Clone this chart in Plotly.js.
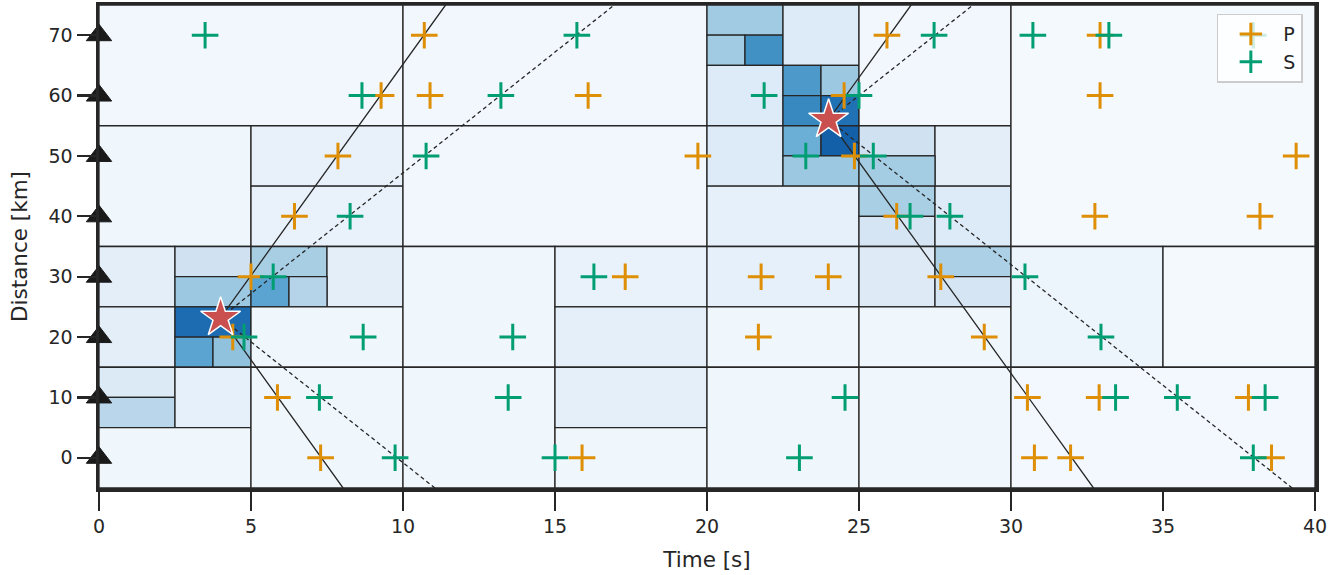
<!DOCTYPE html>
<html><head><meta charset="utf-8">
<script src="https://cdn.plot.ly/plotly-3.0.1.min.js"></script>
<style>html,body{margin:0;padding:0;background:#fff}</style>
</head><body><div id="chart" style="width:1340px;height:575px"></div>
<script>
// ---- data ----
const stationDist = [0, 10, 20, 30, 40, 50, 60, 70];

const pTime = [10.7, 25.92, 32.93,  9.28, 10.89, 16.09, 24.51, 32.93,  7.86, 19.7, 24.85, 39.38,
               6.43, 26.24, 32.76, 38.19,  5.0, 17.31, 21.78, 23.99, 27.69,  4.4, 21.69, 29.12,
               5.87, 30.54, 32.9, 37.81,  7.29, 15.89, 30.77, 31.96, 38.57];
const pDist = [70, 70, 70,  60, 60, 60, 60, 60,  50, 50, 50, 50,
               40, 40, 40, 40,  30, 30, 30, 30, 30,  20, 20, 20,
               10, 10, 10, 10,  0, 0, 0, 0, 0];

const sTime = [3.49, 15.72, 27.47, 30.72, 33.22, 37.97,  8.65, 13.22, 21.88, 25.0,  10.76, 23.25, 25.47,
               8.26, 26.68, 27.99,  5.73, 16.28, 30.46,  4.77, 8.69, 13.61, 32.96,
               7.25, 13.46, 24.54, 33.44, 35.47, 38.36,  9.74, 15.0, 23.04, 37.97];
const sDist = [70, 70, 70, 70, 70, 70,  60, 60, 60, 60,  50, 50, 50,
               40, 40, 40,  30, 30, 30,  20, 20, 20, 20,
               10, 10, 10, 10, 10, 10,  0, 0, 0, 0];

const eventTime = [4.0, 24.0];
const eventDist = [23.2, 56.0];
const velP = 7.0;
const velS = 4.0;

// quadtree cells: bounds and value (0..1 on Blues scale)
const cellX0 = [0, 10, 0, 5, 5, 10, 0, 2.5, 5, 7.5, 2.5, 5, 6.25, 0, 2.5, 2.5, 3.75, 5, 0, 0, 2.5, 0, 5, 10, 15, 15, 10, 15, 15,
                20, 20, 21.25, 22.5, 20, 22.5, 23.75, 22.5, 23.75, 25, 20, 22.5, 23.75, 22.5, 25, 27.5, 25, 20, 25, 25, 27.5, 30,
                20, 25, 27.5, 27.5, 20, 25, 20, 25, 30, 35, 30];
const cellX1 = [10, 20, 5, 10, 10, 20, 2.5, 5, 7.5, 10, 5, 6.25, 7.5, 2.5, 5, 3.75, 5, 10, 2.5, 2.5, 5, 5, 10, 15, 20, 20, 15, 20, 20,
                22.5, 21.25, 22.5, 25, 22.5, 23.75, 25, 23.75, 25, 30, 22.5, 23.75, 25, 25, 27.5, 30, 27.5, 25, 27.5, 27.5, 30, 40,
                25, 27.5, 30, 30, 25, 30, 25, 30, 35, 40, 40];
const cellY0 = [55, 55, 35, 45, 35, 35, 25, 30, 30, 25, 25, 25, 25, 15, 20, 15, 15, 15, 10, 5, 5, -5, -5, 15, 25, 15, -5, 5, -5,
                70, 65, 65, 65, 55, 60, 60, 55, 55, 55, 45, 50, 50, 45, 50, 45, 45, 35, 40, 35, 35, 35,
                25, 25, 30, 25, 15, 15, -5, -5, 15, 15, -5];
const cellY1 = [75, 75, 55, 55, 45, 55, 35, 35, 35, 35, 30, 30, 30, 25, 25, 20, 20, 25, 15, 10, 15, 5, 15, 35, 35, 25, 15, 15, 5,
                75, 70, 70, 75, 65, 65, 65, 60, 60, 75, 55, 55, 55, 50, 55, 55, 50, 45, 45, 40, 45, 75,
                35, 35, 35, 30, 25, 25, 15, 15, 35, 35, 15];
const cellValue = [0.03, 0.03, 0.04, 0.075, 0.07, 0.03, 0.1, 0.2, 0.345, 0.1, 0.38, 0.55, 0.3, 0.1, 0.77, 0.55, 0.41, 0.04,
                   0.135, 0.29, 0.085, 0.04, 0.04, 0.04, 0.07, 0.09, 0.04, 0.09, 0.04,
                   0.37, 0.37, 0.63, 0.13, 0.13, 0.59, 0.38, 0.66, 0.75, 0.03, 0.13, 0.5, 0.815, 0.38, 0.2, 0.1, 0.355,
                   0.085, 0.34, 0.17, 0.13, 0.015, 0.085, 0.125, 0.33, 0.17, 0.04, 0.04, 0.04, 0.04, 0.05, 0.015, 0.02];

const xTicks = [0, 5, 10, 15, 20, 25, 30, 35, 40];
const yTicks = [0, 10, 20, 30, 40, 50, 60, 70];

// ---- colour scale (matplotlib Blues) ----
const blues = [[247,251,255],[222,235,247],[198,219,239],[158,202,225],[107,174,214],[66,146,198],[33,113,181],[8,81,156],[8,48,107]];
function bluesColor(v) {
  const t = Math.max(0, Math.min(1, v)) * (blues.length - 1);
  const i = Math.min(blues.length - 2, Math.floor(t));
  const f = t - i;
  const c = blues[i].map((a, k) => Math.round(a + (blues[i + 1][k] - a) * f));
  return `rgb(${c[0]},${c[1]},${c[2]})`;
}

const dark = '#262626';
const XR = [0, 40], YR = [-5, 75];

const shapes = cellX0.map((x0, i) => ({
  type: 'rect', xref: 'x', yref: 'y', layer: 'below',
  x0: x0, x1: cellX1[i], y0: cellY0[i], y1: cellY1[i],
  fillcolor: bluesColor(cellValue[i]),
  line: {color: dark, width: 1.3}
}));

const traces = [];
// moveout lines
eventTime.forEach((t0, k) => {
  const d0 = eventDist[k];
  [[velP, 'solid'], [velS, '4px,3px']].forEach(([v, dash]) => {
    const ds = [YR[0], d0, YR[1]];
    traces.push({
      type: 'scatter', mode: 'lines', showlegend: false, hoverinfo: 'skip',
      x: ds.map(d => t0 + Math.abs(d - d0) / v), y: ds,
      line: {color: dark, width: 1.3, dash: dash}
    });
  });
});

traces.push({
  type: 'scatter', mode: 'markers', name: 'P', x: pTime, y: pDist,
  marker: {symbol: 'cross-thin', size: 19, color: '#de8f05', line: {color: '#de8f05', width: 3}}
});
traces.push({
  type: 'scatter', mode: 'markers', name: 'S', x: sTime, y: sDist,
  marker: {symbol: 'cross-thin', size: 19, color: '#029e73', line: {color: '#029e73', width: 3}}
});
traces.push({
  type: 'scatter', mode: 'markers', showlegend: false, cliponaxis: false,
  x: stationDist.map(() => 0), y: stationDist,
  marker: {symbol: 'triangle-up', size: 22, color: '#1a1a1a', line: {color: '#1a1a1a', width: 1}}
});
traces.push({
  type: 'scatter', mode: 'markers', showlegend: false, cliponaxis: false,
  x: eventTime, y: eventDist,
  marker: {symbol: 'star', size: 30, color: '#c9504f', line: {color: '#ffffff', width: 1.5}}
});

const font = {family: 'DejaVu Sans, sans-serif', color: dark};
const axisCommon = {
  showgrid: false, zeroline: false, showline: true, mirror: true,
  linecolor: dark, linewidth: 3.5, ticks: 'outside', ticklen: 19, tickwidth: 2.2, tickcolor: dark,
  tickfont: {family: font.family, color: dark, size: 19}, automargin: false
};

const layout = {
  width: 1340, height: 575,
  margin: {l: 99, r: 25, t: 5, b: 87},
  paper_bgcolor: '#ffffff', plot_bgcolor: '#ffffff',
  font: font,
  shapes: shapes,
  xaxis: Object.assign({}, axisCommon, {
    range: XR, tickvals: xTicks, ticktext: xTicks.map(String),
    title: {text: 'Time [s]', font: {family: font.family, color: dark, size: 21.5}, standoff: 16}
  }),
  yaxis: Object.assign({}, axisCommon, {
    range: YR, tickvals: yTicks, ticktext: yTicks.map(String),
    title: {text: 'Distance [km]', font: {family: font.family, color: dark, size: 21.5}, standoff: 16}
  }),
  legend: {
    x: 0.99, xanchor: 'right', y: 0.982, yanchor: 'top',
    bgcolor: 'rgba(255,255,255,0.8)', bordercolor: '#cccccc', borderwidth: 1.5,
    itemwidth: 55,
    font: {family: font.family, color: dark, size: 19}
  },
  showlegend: true
};

Plotly.newPlot('chart', traces, layout, {staticPlot: true, displayModeBar: false});
</script>
</body></html>
